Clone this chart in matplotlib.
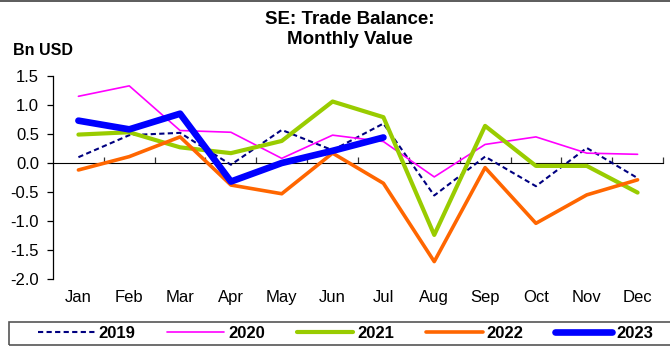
import matplotlib.pyplot as plt
from matplotlib.lines import Line2D
from matplotlib.patches import Rectangle

plt.rcParams['font.family'] = ['Liberation Sans', 'DejaVu Sans']

months = ["Jan", "Feb", "Mar", "Apr", "May", "Jun", "Jul", "Aug", "Sep", "Oct", "Nov", "Dec"]
yticks = [1.5, 1.0, 0.5, 0.0, -0.5, -1.0, -1.5, -2.0]

bal_2019 = [0.10, 0.48, 0.52, -0.03, 0.57, 0.22, 0.68, -0.56, 0.11, -0.40, 0.26, -0.26]
bal_2020 = [1.15, 1.33, 0.56, 0.53, 0.08, 0.48, 0.37, -0.24, 0.32, 0.45, 0.17, 0.15]
bal_2021 = [0.49, 0.53, 0.27, 0.17, 0.38, 1.06, 0.79, -1.24, 0.64, -0.05, -0.05, -0.51]
bal_2022 = [-0.12, 0.11, 0.45, -0.38, -0.53, 0.17, -0.35, -1.70, -0.08, -1.04, -0.55, -0.29]
bal_2023 = [0.73, 0.58, 0.85, -0.32, 0.0, 0.21, 0.44]

series = [
    ("2019", bal_2019, dict(color="#000080", lw=1.5, ls=(0, (2.5, 1.6)))),
    ("2020", bal_2020, dict(color="#FF00FF", lw=1.2)),
    ("2021", bal_2021, dict(color="#99CC00", lw=3.0)),
    ("2022", bal_2022, dict(color="#FF6600", lw=2.6)),
    ("2023", bal_2023, dict(color="#0000FF", lw=4.8)),
]

fig = plt.figure(figsize=(6.7, 3.49), dpi=100)
ax = fig.add_axes([53 / 670, 70 / 349, 610 / 670, 203 / 349])

handles = []
for name, vals, style in series:
    ln, = ax.plot(range(len(vals)), vals, label=name,
                  solid_capstyle="round", solid_joinstyle="round", **style)
    handles.append(ln)

ax.set_xlim(-0.5, 11.5)
ax.set_ylim(-2.0, 1.5)
ax.set_yticks(yticks)
ax.set_yticklabels([f"{v:.1f}" for v in yticks])
ax.set_xticks(range(12))
ax.set_xticklabels(months)
ax.tick_params(axis="x", length=0, pad=8, labelsize=12)
ax.tick_params(axis="y", length=4, width=0.9, pad=6, labelsize=12)
for side in ("top", "right", "bottom"):
    ax.spines[side].set_visible(False)
ax.spines["left"].set_linewidth(0.9)

# category axis crossing at zero, ticks between months
zax = ax.secondary_xaxis(2.0 / 3.5)
zax.set_xticks([i + 0.5 for i in range(12)])
zax.set_xticklabels([])
zax.tick_params(direction="out", length=4, width=0.9, color="#333333")
zax.spines["bottom"].set_color("#333333")
zax.spines["bottom"].set_linewidth(0.9)
ax.set_zorder(2)

fig.text(350 / 670, 1 - 11 / 349, "SE: Trade Balance:\nMonthly Value",
         ha="center", va="top", fontsize=13.5, fontweight="bold", linespacing=1.2)
fig.text(13 / 670, 1 - 55 / 349, "Bn USD", ha="left", va="baseline",
         fontsize=11.5, fontweight="bold")

# frame lines around the chart
fig.add_artist(Line2D([0, 1], [1 - 1 / 349, 1 - 1 / 349], transform=fig.transFigure,
                      color="#404040", lw=1.2))
fig.add_artist(Rectangle((9 / 670, 4 / 349), 670 / 670, 23 / 349, transform=fig.transFigure,
                         fill=False, edgecolor="#555555", lw=1.2))

fig.legend(handles=handles, loc="center left", bbox_to_anchor=(38 / 670, 15.5 / 349),
           ncol=5, frameon=False, borderpad=0, borderaxespad=0,
           handlelength=3.4, handletextpad=0.25, columnspacing=1.9,
           prop=dict(weight="bold", size=12))

fig.savefig("out.png", dpi=100)
